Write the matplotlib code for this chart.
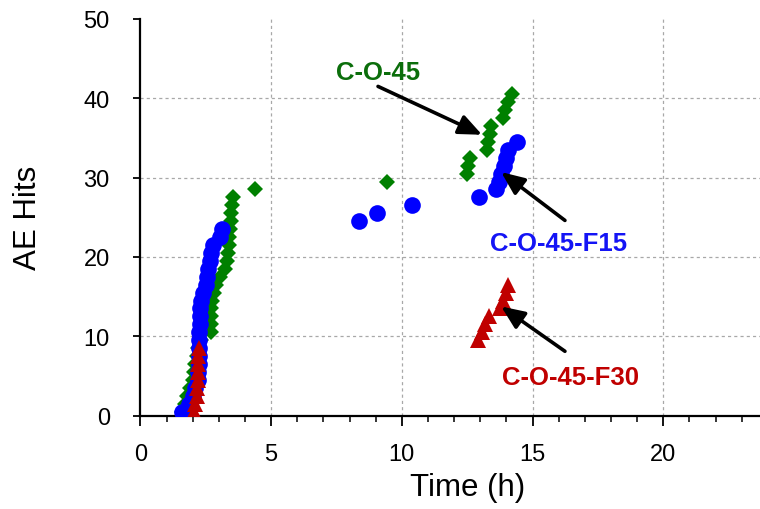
import matplotlib
matplotlib.use("Agg")
import matplotlib.pyplot as plt
from matplotlib.ticker import MultipleLocator

# Cumulative acoustic-emission hits versus time for three specimens
co45_time = [1.6, 1.7, 1.8, 1.9, 2.0, 2.05, 2.1, 2.15, 2.2, 2.3,
             2.7, 2.7, 2.72, 2.72, 2.75, 2.8, 2.9, 3.05, 3.25, 3.3,
             3.35, 3.38, 3.4, 3.42, 3.45, 3.47, 3.5, 3.55, 4.4, 9.45,
             12.5, 12.55, 12.6, 13.25, 13.3, 13.37, 13.4, 13.88, 13.95, 14.07,
             14.2]
co45_hits = [0.5, 1.5, 2.5, 3.5, 4.5, 5.5, 6.5, 7.5, 8.5, 9.5,
             10.5, 11.5, 12.5, 13.5, 14.5, 15.5, 16.5, 17.5, 18.5, 19.5,
             20.5, 21.5, 22.5, 23.5, 24.5, 25.5, 26.5, 27.5, 28.5, 29.5,
             30.5, 31.5, 32.5, 33.5, 34.5, 35.5, 36.5, 37.5, 38.5, 39.5,
             40.5]

f15_time = [1.6, 1.85, 2.0, 2.1, 2.2, 2.22, 2.23, 2.24, 2.25, 2.25,
            2.26, 2.27, 2.27, 2.28, 2.3, 2.4, 2.5, 2.55, 2.6, 2.65,
            2.7, 2.78, 3.05, 3.12, 8.35, 9.05, 10.4, 12.97, 13.6, 13.7,
            13.8, 13.92, 14.0, 14.07, 14.42]
f15_hits = [0.5, 1.5, 2.5, 3.5, 4.5, 5.5, 6.5, 7.5, 8.5, 9.5,
            10.5, 11.5, 12.5, 13.5, 14.5, 15.5, 16.5, 17.5, 18.5, 19.5,
            20.5, 21.5, 22.5, 23.5, 24.5, 25.5, 26.5, 27.5, 28.5, 29.5,
            30.5, 31.5, 32.5, 33.5, 34.5]

f30_time = [2.05, 2.1, 2.15, 2.18, 2.2, 2.2, 2.22, 2.22, 2.25,
            12.92, 13.05, 13.2, 13.32, 13.75, 13.88, 13.98, 14.05]
f30_hits = [0.5, 1.5, 2.5, 3.5, 4.5, 5.5, 6.5, 7.5, 8.5,
            9.5, 10.5, 11.5, 12.5, 13.5, 14.5, 15.5, 16.5]

x_ticks = [0, 5, 10, 15, 20]
y_ticks = [0, 10, 20, 30, 40, 50]

fig = plt.figure(figsize=(7.6, 5.1), dpi=100)
ax = fig.add_axes([0.1847, 0.1833, 0.86, 0.7775])

ax.plot(co45_time, co45_hits, linestyle="none", marker="D", markersize=8.6,
        color="#008000", markeredgewidth=0, zorder=3)
ax.plot(f15_time, f15_hits, linestyle="none", marker="o", markersize=12,
        color="#0000FF", markeredgewidth=0, zorder=4)
ax.plot(f30_time, f30_hits, linestyle="none", marker="^", markersize=12,
        color="#C00000", markeredgewidth=0, zorder=5)

ax.set_xlim(0, 25)
ax.set_ylim(0, 50)
ax.set_xticks(x_ticks)
ax.set_yticks(y_ticks)
ax.xaxis.set_minor_locator(MultipleLocator(1))

ax.spines["top"].set_visible(False)
ax.spines["right"].set_visible(False)
for side in ("left", "bottom"):
    ax.spines[side].set_linewidth(1.6)
    ax.spines[side].set_color("black")

tick_font = ["Liberation Sans Narrow", "Liberation Sans"]
ax.tick_params(axis="x", which="major", direction="out", length=7, width=1.3,
               pad=12.5, labelsize=17)
ax.tick_params(axis="x", which="minor", direction="out", length=4, width=1.1)
ax.tick_params(axis="y", which="major", direction="out", length=5, width=1.3,
               pad=17, labelsize=17)
for lab in ax.get_xticklabels() + ax.get_yticklabels():
    lab.set_family(tick_font)

ax.grid(True, which="major", linestyle=(0, (2.5, 2.5)), color="#a8a8a8", linewidth=0.9)
ax.set_axisbelow(True)
ax.get_ygridlines()[-1].set_visible(False)
ax.get_xgridlines()[0].set_visible(False)

label_font = "Liberation Sans"
ax.set_xlabel("Time (h)", family=label_font, fontsize=22.5, va="center")
ax.xaxis.set_label_coords(0.5, -0.18)
ax.set_ylabel("AE Hits", family=label_font, fontsize=22.5, va="center")
ax.yaxis.set_label_coords(-0.172, 0.5)

arrow_style = dict(arrowstyle="-|>,head_length=0.7,head_width=0.3",
                   color="black", lw=2.6, mutation_scale=20,
                   shrinkA=0, shrinkB=0)

ax.text(9.09, 43.3, "C-O-45", color="#0B6E0B", fontsize=18.5, fontweight="bold",
        family=label_font, ha="center", va="center")
ax.annotate("", xy=(13.07, 35.4), xytext=(9.09, 41.5), arrowprops=arrow_style,
            zorder=6)

ax.text(16.0, 21.8, "C-O-45-F15", color="#1414F5", fontsize=18.5, fontweight="bold",
        family=label_font, ha="center", va="center")
ax.annotate("", xy=(13.8, 30.7), xytext=(16.24, 24.6), arrowprops=arrow_style,
            zorder=6)

ax.text(16.44, 4.8, "C-O-45-F30", color="#C00000", fontsize=18.5, fontweight="bold",
        family=label_font, ha="center", va="center")
ax.annotate("", xy=(13.8, 13.75), xytext=(16.24, 8.1), arrowprops=arrow_style,
            zorder=6)

fig.savefig("out.png", dpi=100)
